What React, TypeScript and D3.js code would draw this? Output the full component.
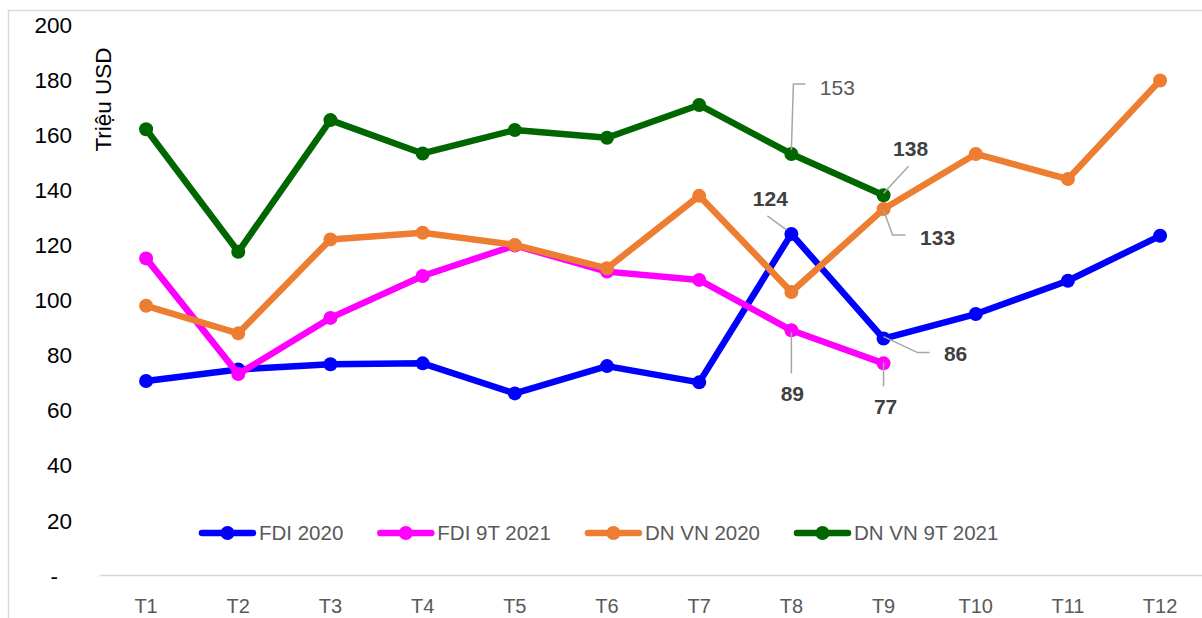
import { useEffect, useRef } from 'react';
import * as d3 from 'd3';

const months = ['T1', 'T2', 'T3', 'T4', 'T5', 'T6', 'T7', 'T8', 'T9', 'T10', 'T11', 'T12'];
const yTicks = [0, 20, 40, 60, 80, 100, 120, 140, 160, 180, 200];

const fdi2020 = [70.6, 74.8, 76.7, 77.0, 66.1, 76.0, 70.1, 124, 86, 94.9, 107, 123.3];
const fdi2021 = [115.1, 73.1, 93.5, 108.7, 119.8, 110.3, 107.3, 89, 77];
const dn2020 = [97.9, 87.9, 122.0, 124.4, 120.0, 111.5, 137.8, 102.9, 133, 153, 143.9, 179.7];
const dn2021 = [162.0, 117.5, 165.3, 153.2, 161.7, 158.9, 170.8, 153, 138];

const seriesNames = ['FDI 2020', 'FDI 9T 2021', 'DN VN 2020', 'DN VN 9T 2021'];
const seriesValues = [fdi2020, fdi2021, dn2020, dn2021];
const seriesColors = ['#0000ff', '#ff00ff', '#ed7d31', '#006600'];

// data labels shown only on T8/T9: series index, month, value
const labelPoints = [
  { s: 3, m: 'T8', v: 153 },
  { s: 3, m: 'T9', v: 138 },
  { s: 0, m: 'T8', v: 124 },
  { s: 2, m: 'T9', v: 133 },
  { s: 0, m: 'T9', v: 86 },
  { s: 1, m: 'T8', v: 89 },
  { s: 1, m: 'T9', v: 77 },
];

// where each label sits relative to its point, plus the leader line
const labelLayout = [
  { dx: 46, dy: -67, bold: false, leader: [[0, -4], [2, -70], [14, -70]] },
  { dx: 27, dy: -47, bold: true, leader: [[0, -2], [25, -29]] },
  { dx: -21, dy: -35, bold: true, leader: [[-5, -4], [-24, -18]] },
  { dx: 54, dy: 28, bold: true, leader: [[0, 1], [9, 26], [22, 26]] },
  { dx: 72, dy: 15, bold: true, leader: [[0, -2], [34, 14], [46, 14]] },
  { dx: 1, dy: 63, bold: true, leader: [[0, 2], [0, 43]] },
  { dx: 2, dy: 43, bold: true, leader: [[0, -1], [0, 23]] },
];

export default function App() {
  const svgRef = useRef<SVGSVGElement>(null);

  useEffect(() => {
    if (!svgRef.current) return;
    const width = 1202;
    const height = 618;
    const font = "'Liberation Sans', Arial, sans-serif";

    d3.select(svgRef.current).selectAll('*').remove();
    const svg = d3.select(svgRef.current)
      .attr('width', width)
      .attr('height', height)
      .style('font-family', font);

    svg.append('rect')
      .attr('width', width).attr('height', height).attr('fill', '#fff');

    // chart frame (runs off the right and bottom edge)
    svg.append('rect')
      .attr('x', 8.5).attr('y', 10.5)
      .attr('width', 1220).attr('height', 640)
      .attr('fill', 'none')
      .attr('stroke', '#d9d9d9')
      .attr('stroke-width', 1.5);

    const x = d3.scaleBand()
      .domain(months)
      .range([100, 1206.2])
      .padding(0);
    const cx = (m: string) => (x(m) || 0) + x.bandwidth() / 2;

    const y = d3.scaleLinear()
      .domain([0, 200])
      .range([575.5, 24.5]);

    // baseline
    svg.append('line')
      .attr('x1', 99.5).attr('x2', width)
      .attr('y1', y(0)).attr('y2', y(0))
      .attr('stroke', '#d9d9d9')
      .attr('stroke-width', 1.5);

    // y tick labels
    svg.append('g')
      .selectAll('text')
      .data(yTicks)
      .join('text')
      .attr('x', d => (d === 0 ? 58 : 72))
      .attr('y', d => y(d))
      .attr('dy', '0.36em')
      .attr('text-anchor', 'end')
      .style('font-size', '22.5px')
      .style('fill', '#000')
      .text(d => (d === 0 ? '-' : String(d)));

    svg.append('text')
      .attr('transform', 'translate(111,99.5) rotate(-90)')
      .attr('text-anchor', 'middle')
      .style('font-size', '22.5px')
      .style('fill', '#000')
      .text('Triệu USD');

    // x tick labels
    svg.append('g')
      .selectAll('text')
      .data(months)
      .join('text')
      .attr('x', d => cx(d))
      .attr('y', 613)
      .attr('text-anchor', 'middle')
      .style('font-size', '20px')
      .style('fill', '#595959')
      .text(d => d);

    const line = d3.line<number>()
      .x((_, i) => cx(months[i]))
      .y(d => y(d));

    seriesValues.forEach((vals, s) => {
      const g = svg.append('g');
      g.append('path')
        .datum(vals)
        .attr('d', line)
        .attr('fill', 'none')
        .attr('stroke', seriesColors[s])
        .attr('stroke-width', 6.5)
        .attr('stroke-linejoin', 'round')
        .attr('stroke-linecap', 'round');
      g.selectAll('circle')
        .data(vals)
        .join('circle')
        .attr('cx', (_, i) => cx(months[i]))
        .attr('cy', d => y(d))
        .attr('r', 7)
        .attr('fill', seriesColors[s]);
    });

    // data labels with leader lines
    labelPoints.forEach((p, i) => {
      const lay = labelLayout[i];
      const px = cx(p.m);
      const py = y(p.v);
      svg.append('path')
        .attr('d', d3.line()(lay.leader.map(([a, b]) => [px + a, py + b] as [number, number])))
        .attr('fill', 'none')
        .attr('stroke', '#a6a6a6')
        .attr('stroke-width', 1.5);
      svg.append('text')
        .attr('x', px + lay.dx)
        .attr('y', py + lay.dy)
        .attr('dy', '0.36em')
        .attr('text-anchor', 'middle')
        .style('font-size', '21px')
        .style('font-weight', lay.bold ? 'bold' : 'normal')
        .style('fill', lay.bold ? '#404040' : '#595959')
        .text(String(p.v));
    });

    // legend
    const legend = svg.append('g').attr('transform', 'translate(199,533)');
    let offset = 0;
    seriesNames.forEach((name, i) => {
      const item = legend.append('g').attr('transform', `translate(${offset},0)`);
      item.append('line')
        .attr('x1', 3).attr('x2', 54)
        .attr('stroke', seriesColors[i])
        .attr('stroke-width', 6.5)
        .attr('stroke-linecap', 'round');
      item.append('circle')
        .attr('cx', 28.5)
        .attr('r', 7)
        .attr('fill', seriesColors[i]);
      const t = item.append('text')
        .attr('x', 60)
        .attr('dy', '0.36em')
        .style('font-size', '20.5px')
        .style('fill', '#595959')
        .text(name);
      const w = (t.node() as SVGTextElement).getComputedTextLength();
      offset += 60 + w + 34;
    });
  }, []);

  return (
    <div style={{ position: 'fixed', left: 0, top: 0 }}>
      <svg ref={svgRef} style={{ display: 'block' }}></svg>
    </div>
  );
}
